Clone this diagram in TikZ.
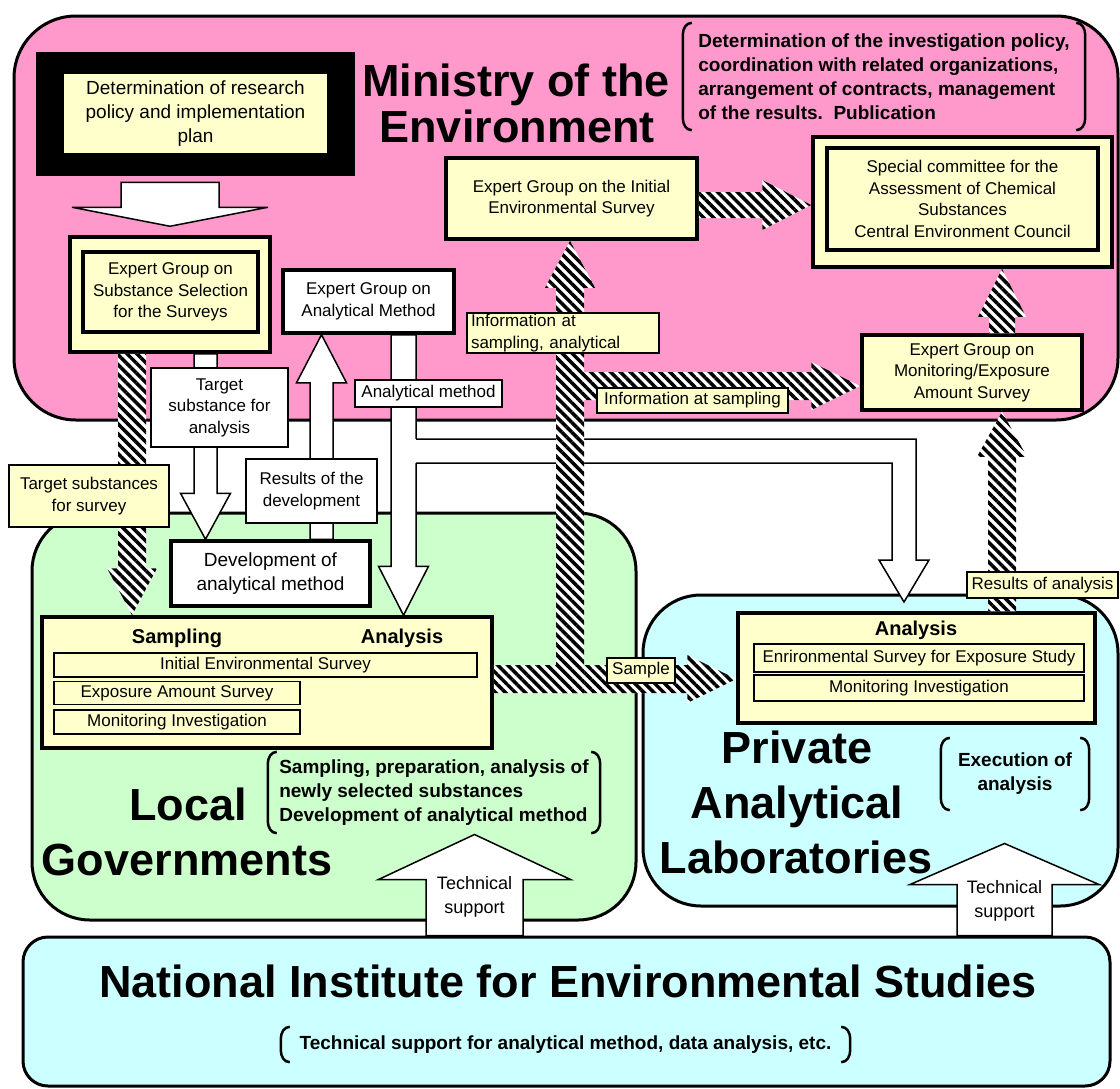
\documentclass[tikz,border=0pt]{standalone}
\usepackage{fontspec}
\setmainfont{Liberation Sans}
\usetikzlibrary{calc,patterns.meta}
\definecolor{ministryPink}{HTML}{FF99CC}
\definecolor{localGreen}{HTML}{CCFFCC}
\definecolor{labCyan}{HTML}{CCFFFF}
\definecolor{boxYellow}{HTML}{FFFFCC}
\tikzstyle{regionStyle} = [draw=black, line width=3pt, inner sep=0pt]
\tikzstyle{boxText} = [font=\fontsize{17}{21.5}\selectfont, align=center, inner sep=0pt]
\tikzstyle{thickBox} = [boxText, draw=black, line width=3.5pt, fill=boxYellow]
\tikzstyle{thinBox} = [boxText, draw=black, line width=1.5pt, fill=boxYellow]
\tikzstyle{whiteLabel} = [boxText, draw=black, line width=1.5pt, fill=white]
\tikzstyle{yellowLabel} = [thinBox]
\tikzstyle{headText} = [font=\fontsize{20}{24}\selectfont\bfseries, inner sep=0pt]
\tikzstyle{titleText} = [font=\fontsize{45}{55}\selectfont\bfseries, inner sep=0pt, anchor=base]
\tikzstyle{noteText} = [font=\fontsize{19}{24}\selectfont\bfseries, inner sep=0pt]
\tikzstyle{bracketLine} = [draw=black, line width=2.5pt]
\tikzstyle{whiteArrow} = [fill=white, draw=black, line width=1.5pt, line join=miter]
\tikzstyle{stripeArrow} = [preaction={fill=white}, pattern={Lines[angle=-45,distance=7pt,line width=3.5pt]}, pattern color=black]
\newcommand{\vArrow}[6]{\path[#1] let \p1 = #2, \p2 = #3, \n2 = {#6*sign(\y1-\y2)} in
  ({\x2-#4},\y1) -- ({\x2-#4},{\y2+\n2}) -- ({\x2-#5},{\y2+\n2}) -- (\x2,\y2)
  -- ({\x2+#5},{\y2+\n2}) -- ({\x2+#4},{\y2+\n2}) -- ({\x2+#4},\y1) -- cycle;}
\newcommand{\hArrow}[6]{\path[#1] let \p1 = #2, \p2 = #3, \n2 = {#6*sign(\x1-\x2)} in
  (\x1,{\y2+#4}) -- ({\x2+\n2},{\y2+#4}) -- ({\x2+\n2},{\y2+#5}) -- (\x2,\y2)
  -- ({\x2+\n2},{\y2-#5}) -- ({\x2+\n2},{\y2-#4}) -- (\x1,{\y2-#4}) -- cycle;}
\newcommand{\parenNote}[1]{
  \draw[bracketLine] ($(#1.north west)+(9,0)$) to[out=180,in=90] ($(#1.north west)+(0,12)$) -- ($(#1.south west)+(0,-12)$) to[out=-90,in=180] ($(#1.south west)+(9,0)$);
  \draw[bracketLine] ($(#1.north east)+(-9,0)$) to[out=0,in=90] ($(#1.north east)+(0,12)$) -- ($(#1.south east)+(0,-12)$) to[out=-90,in=0] ($(#1.south east)+(-9,0)$);
}
\begin{document}
\begin{tikzpicture}[x=1pt, y=-1pt]
  \useasboundingbox (0,0) rectangle (1120,1088);

  \node[regionStyle, fill=ministryPink, rounded corners=62pt, minimum width=1104pt, minimum height=404pt] (ministryRegion) at (566,218) {};
  \node[regionStyle, fill=localGreen, rounded corners=58pt, minimum width=604pt, minimum height=407pt] (localRegion) at (334,716.5) {};
  \node[regionStyle, fill=labCyan, rounded corners=58pt, minimum width=475pt, minimum height=311pt] (labRegion) at (880.5,750.5) {};
  \node[regionStyle, fill=labCyan, rounded corners=25pt, minimum width=1087pt, minimum height=149pt] (niesRegion) at (566.5,1011.5) {};

  \node[fill=black, inner sep=0pt, minimum width=319pt, minimum height=124pt] (planFrame) at (195.5,114) {};
  \node[boxText, fill=boxYellow, minimum width=263pt, minimum height=79pt, font=\fontsize{19}{24}\selectfont] (planBox) at (195.5,113.5) {Determination of research\\policy and implementation\\plan};
  \node[thickBox, minimum width=200pt, minimum height=115pt] (selOuter) at (170,294.5) {};
  \node[thickBox, line width=4.5pt, minimum width=175pt, minimum height=80pt] (selBox) at (170.5,292) {Expert Group on\\Substance Selection\\for the Surveys};
  \node[thickBox, fill=white, minimum width=171pt, minimum height=63pt] (methodBox) at (368.5,301.5) {Expert Group on\\Analytical Method};
  \node[thickBox, minimum width=251pt, minimum height=81pt] (initBox) at (571.5,198.5) {Expert Group on the Initial\\Environmental Survey};
  \node[thickBox, minimum width=299pt, minimum height=130pt] (councilOuter) at (962.5,202) {};
  \node[thickBox, minimum width=271pt, minimum height=102pt] (councilBox) at (962.5,199) {Special committee for the\\Assessment of Chemical\\Substances\\Central Environment Council};
  \node[thickBox, minimum width=220pt, minimum height=75pt] (monBox) at (972,372.5) {Expert Group on\\Monitoring/Exposure\\Amount Survey};
  \node[thickBox, fill=white, minimum width=199pt, minimum height=65pt, font=\fontsize{19}{24}\selectfont] (devBox) at (270.5,573.5) {Development of\\analytical method};
  \node[thickBox, minimum width=450pt, minimum height=131pt] (localBox) at (267,682.5) {};
  \node[thickBox, minimum width=357pt, minimum height=110pt] (labBox) at (916.5,668) {};

  \coordinate (tssX) at (132,0);
  \coordinate (tsaX) at (205.5,0);
  \coordinate (resDevX) at (321.5,0);
  \coordinate (amX) at (403.5,0);
  \coordinate (resX) at (1002,0);
  \coordinate (techLX) at (474.5,0);
  \coordinate (techRX) at (1004.5,0);
  \coordinate (initY) at (0,205);
  \coordinate (smpJoin) at (570,679);
  \coordinate (infoJoin) at (570,386);

  \vArrow{whiteArrow}{($(selOuter.north)+(0,-53)$)}{($(selOuter.north)+(0,-9)$)}{49}{98}{19}
  \vArrow{whiteArrow}{(selOuter.south -| tsaX)}{(devBox.north -| tsaX)}{11.5}{25}{46}
  \vArrow{whiteArrow}{(devBox.north -| resDevX)}{(methodBox.south -| resDevX)}{11.5}{25}{48}
  \vArrow{whiteArrow}{(methodBox.south -| amX)}{(localBox.north -| amX)}{12.5}{25}{49}
  \fill[white] (414.5,439) -- (916,439) -- (916,560) -- (929,560) -- (904,602) -- (879,560) -- (892,560) -- (892,463) -- (414.5,463) -- cycle;
  \draw[whiteArrow, fill=none] (416.2,439) -- (916,439) -- (916,560) -- (929,560) -- (904,602) -- (879,560) -- (892,560) -- (892,463) -- (416.2,463);
  \vArrow{whiteArrow}{(niesRegion.north -| techLX)}{($(niesRegion.north -| techLX)+(0,-101)$)}{48.5}{96}{45}
  \vArrow{whiteArrow}{(niesRegion.north -| techRX)}{($(niesRegion.north -| techRX)+(0,-92)$)}{47.5}{94.5}{41}

  \vArrow{stripeArrow}{(selOuter.south -| tssX)}{(localBox.north -| tssX)}{14}{25}{47}
  \hArrow{stripeArrow}{(localBox.east |- smpJoin)}{(labBox.west |- smpJoin)}{14}{24}{49}
  \vArrow{stripeArrow}{($(smpJoin)+(0,14)$)}{(initBox.south -| smpJoin)}{14}{25}{47}
  \hArrow{stripeArrow}{(infoJoin)}{(monBox.west |- infoJoin)}{14}{24}{49}
  \hArrow{stripeArrow}{(initBox.east |- initY)}{(councilOuter.west |- initY)}{13}{25}{49}
  \vArrow{stripeArrow}{(monBox.north -| resX)}{(councilOuter.south -| resX)}{13}{24}{48}
  \vArrow{stripeArrow}{(labBox.north -| resX)}{(monBox.south -| resX)}{14}{25}{45}

  \node[headText] (smpHead) at (177,638) {Sampling};
  \node[headText] (anaHead) at (402,638) {Analysis};
  \node[thinBox, minimum width=423pt, minimum height=24pt] (initRow) at (265.5,665) {Initial Environmental Survey};
  \node[thinBox, minimum width=246pt, minimum height=23pt] (expRow) at (177,693) {Exposure Amount Survey};
  \node[thinBox, minimum width=246pt, minimum height=24pt] (monRow) at (177,722) {Monitoring Investigation};
  \node[headText] (labHead) at (916,630) {Analysis};
  \node[thinBox, minimum width=330pt, minimum height=28pt] (envRow) at (919,658) {Enrironmental Survey for Exposure Study};
  \node[thinBox, minimum width=330pt, minimum height=26pt] (monRowLab) at (919,688) {Monitoring Investigation};

  \node[yellowLabel, text width=184pt, inner xsep=4pt, align=left, minimum height=40pt] (infoLbl) at (563,333) {Information at\\sampling, analytical};
  \node[yellowLabel, minimum width=191pt, minimum height=25pt] (infoSmpLbl) at (692.5,400.5) {Information at sampling};
  \node[whiteLabel, minimum width=137pt, minimum height=79pt] (tsaLbl) at (219.5,407.5) {Target\\substance for\\analysis};
  \node[yellowLabel, minimum width=160pt, minimum height=62pt] (tssLbl) at (89,496) {Target substances\\for survey};
  \node[whiteLabel, minimum width=131pt, minimum height=64pt] (resDevLbl) at (311.5,491) {Results of the\\development};
  \node[whiteLabel, minimum width=147pt, minimum height=27pt] (amLbl) at (428.5,393.5) {Analytical method};
  \node[yellowLabel, minimum width=68pt, minimum height=25pt] (smpLbl) at (641,670.5) {Sample};
  \node[yellowLabel, minimum width=151pt, minimum height=26pt] (resLbl) at (1042.5,585) {Results of analysis};
  \node[boxText, font=\fontsize{18}{24}\selectfont] (techTxtL) at (474.5,897) {Technical\\support};
  \node[boxText, font=\fontsize{18}{24}\selectfont] (techTxtR) at (1004.5,901) {Technical\\support};

  \node[titleText] (minTitleA) at (516,96) {Ministry of the};
  \node[titleText] (minTitleB) at (517,142) {Environment};
  \node[titleText] (localTitleA) at (188,820) {Local};
  \node[titleText] (localTitleB) at (187,875) {Governments};
  \node[titleText] (labTitleA) at (797,763) {Private};
  \node[titleText] (labTitleB) at (797,818) {Analytical};
  \node[titleText] (labTitleC) at (796,873) {Laboratories};
  \node[titleText] (niesTitle) at (568,997) {National Institute for Environmental Studies};

  \node[noteText, align=left, minimum width=402pt, minimum height=107pt] (minNote) at (884,76.5) {Determination of the investigation policy,\\coordination with related organizations,\\arrangement of contracts, management\\of the results.\ \ Publication};
  \node[noteText, align=left, minimum width=332pt, minimum height=81pt] (localNote) at (434,792.5) {Sampling, preparation, analysis of\\newly selected substances\\Development of analytical method};
  \node[noteText, align=center, minimum width=148pt, minimum height=72pt] (labNote) at (1015,774) {Execution of\\analysis};
  \node[noteText, align=center, minimum width=569pt, minimum height=35pt] (niesNote) at (565.5,1044.5) {Technical support for analytical method, data analysis, etc.};
  \parenNote{minNote}
  \parenNote{localNote}
  \parenNote{labNote}
  \parenNote{niesNote}
\end{tikzpicture}
\end{document}
